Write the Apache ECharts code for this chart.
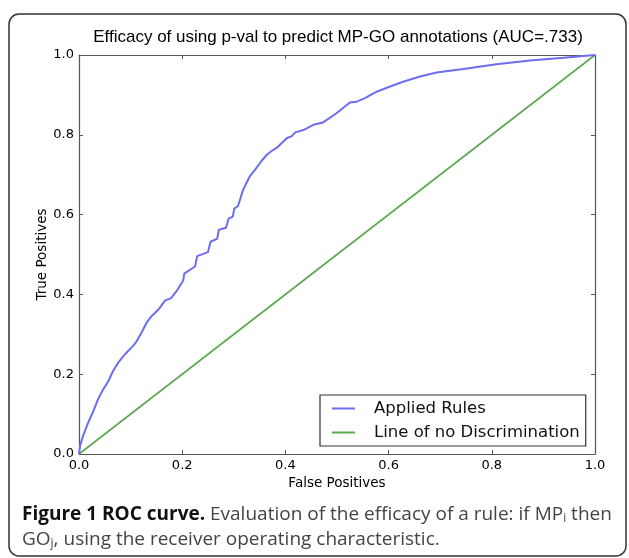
<!DOCTYPE html>
<html>
<head>
<meta charset="utf-8">
<script src="https://cdn.jsdelivr.net/npm/echarts@6/dist/echarts.min.js"></script>
<style>
  html, body { margin: 0; padding: 0; background: #fff; }
  #chart { width: 629px; height: 558px; }
</style>
</head>
<body>
<div id="chart"></div>
<script>
// ROC points: [false positive rate, true positive rate]
const appliedRules = [
  [0, 0], [0.002, 0.02], [0.008, 0.046], [0.018, 0.079], [0.028, 0.108],
  [0.037, 0.1375], [0.047, 0.162], [0.057, 0.183], [0.066, 0.208], [0.076, 0.229],
  [0.089, 0.25], [0.105, 0.271], [0.112, 0.283], [0.121, 0.304], [0.131, 0.329],
  [0.141, 0.346], [0.154, 0.362], [0.167, 0.385], [0.178, 0.39], [0.189, 0.408],
  [0.202, 0.435], [0.204, 0.452], [0.225, 0.47], [0.229, 0.496], [0.25, 0.506],
  [0.255, 0.532], [0.268, 0.54], [0.271, 0.562], [0.285, 0.567], [0.29, 0.59],
  [0.298, 0.595], [0.301, 0.615], [0.308, 0.621], [0.318, 0.662], [0.331, 0.696],
  [0.341, 0.712], [0.354, 0.735], [0.364, 0.75], [0.374, 0.76], [0.383, 0.767],
  [0.403, 0.792], [0.412, 0.796], [0.419, 0.806], [0.435, 0.812], [0.454, 0.825],
  [0.473, 0.831], [0.499, 0.854], [0.525, 0.881], [0.538, 0.883], [0.554, 0.892],
  [0.577, 0.908], [0.603, 0.921], [0.628, 0.933], [0.661, 0.946], [0.693, 0.956],
  [0.745, 0.965], [0.809, 0.977], [0.874, 0.986], [0.939, 0.993], [1, 1]
];
const noDiscrimination = [[0, 0], [1, 1]];

const titleText = "Efficacy of using p-val to predict MP-GO annotations (AUC=.733)";
const xName = "False Positives";
const yName = "True Positives";
const seriesNames = ["Applied Rules", "Line of no Discrimination"];

const chart = echarts.init(document.getElementById("chart"), null, { renderer: "canvas" });

const mainAxis = (extra) => Object.assign({
  type: "value", min: 0, max: 1, interval: 0.2,
  axisLine: { show: true, onZero: false, lineStyle: { color: "#555", width: 1.2 } },
  axisTick: { show: true, inside: true, length: 4, lineStyle: { color: "#555", width: 1 } },
  splitLine: { show: false },
}, extra);

const tickLabel = (margin) => ({
  margin: margin,
  fontFamily: "DejaVu Sans", fontSize: 13, color: "#000",
  formatter: (v) => v.toFixed(1),
});

const nameStyle = { fontFamily: "DejaVu Sans", fontSize: 13.5, color: "#000" };

const option = {
  backgroundColor: "#fff",
  animation: false,
  title: {
    text: titleText,
    left: 333, top: 24, textAlign: "center",
    textStyle: { fontFamily: "Liberation Sans", fontWeight: "normal", fontSize: 17, color: "#000" },
  },
  grid: { left: 79, right: 34, top: 55, bottom: 104 },
  legend: {
    orient: "vertical",
    left: 320, top: 395,
    padding: [5, 6, 5, 12],
    itemGap: 7, itemWidth: 23, itemHeight: 2,
    icon: "rect",
    borderColor: "#333", borderWidth: 1.2, borderRadius: 0,
    backgroundColor: "#fff",
    textStyle: { fontFamily: "DejaVu Sans", fontSize: 16.5, color: "#111", padding: [0, 0, 0, 14] },
    data: seriesNames,
  },
  xAxis: [
    mainAxis({
      position: "bottom",
      name: xName, nameLocation: "middle", nameGap: 21, nameTextStyle: nameStyle,
      axisLabel: tickLabel(5),
    }),
    mainAxis({ position: "top", axisLabel: { show: false } }),
  ],
  yAxis: [
    mainAxis({
      position: "left",
      name: yName, nameLocation: "middle", nameGap: 30, nameMoveOverlap: false,
      nameTextStyle: nameStyle,
      axisLabel: tickLabel(5),
    }),
    mainAxis({ position: "right", axisLabel: { show: false } }),
  ],
  series: [
    {
      name: seriesNames[0], type: "line", data: appliedRules,
      xAxisIndex: 0, yAxisIndex: 0,
      symbol: "none", smooth: false, z: 3,
      lineStyle: { color: "#6d6df0", width: 2 }, itemStyle: { color: "#6d6df0" },
    },
    {
      name: seriesNames[1], type: "line", data: noDiscrimination,
      xAxisIndex: 1, yAxisIndex: 1,
      symbol: "none", z: 2,
      lineStyle: { color: "#5aa84f", width: 1.6 }, itemStyle: { color: "#5aa84f" },
    },
  ],
  graphic: [
    {
      type: "rect", silent: true, z: -1,
      shape: { x: 9, y: 14, width: 617, height: 542, r: 10 },
      style: { fill: "none", stroke: "#333", lineWidth: 1.5 },
    },
    {
      type: "text", left: 22, top: 505,
      style: {
        text: "{b|Figure 1 ROC curve.} Evaluation of the efficacy of a rule: if MP{s|i} then",
        font: "19px 'Open Sans'", fill: "#444",
        rich: {
          b: { fontFamily: "Open Sans", fontWeight: "bold", fontSize: 19, fill: "#111" },
          s: { fontFamily: "Open Sans", fontSize: 12, fill: "#444", padding: [9, 0, 0, 0] },
        },
      },
    },
    {
      type: "text", left: 22, top: 530,
      style: {
        text: "GO{s|j}, using the receiver operating characteristic.",
        font: "19px 'Open Sans'", fill: "#444",
        rich: {
          s: { fontFamily: "Open Sans", fontSize: 12, fill: "#444", padding: [9, 0, 0, 0] },
        },
      },
    },
  ],
};

chart.setOption(option);
</script>
</body>
</html>
